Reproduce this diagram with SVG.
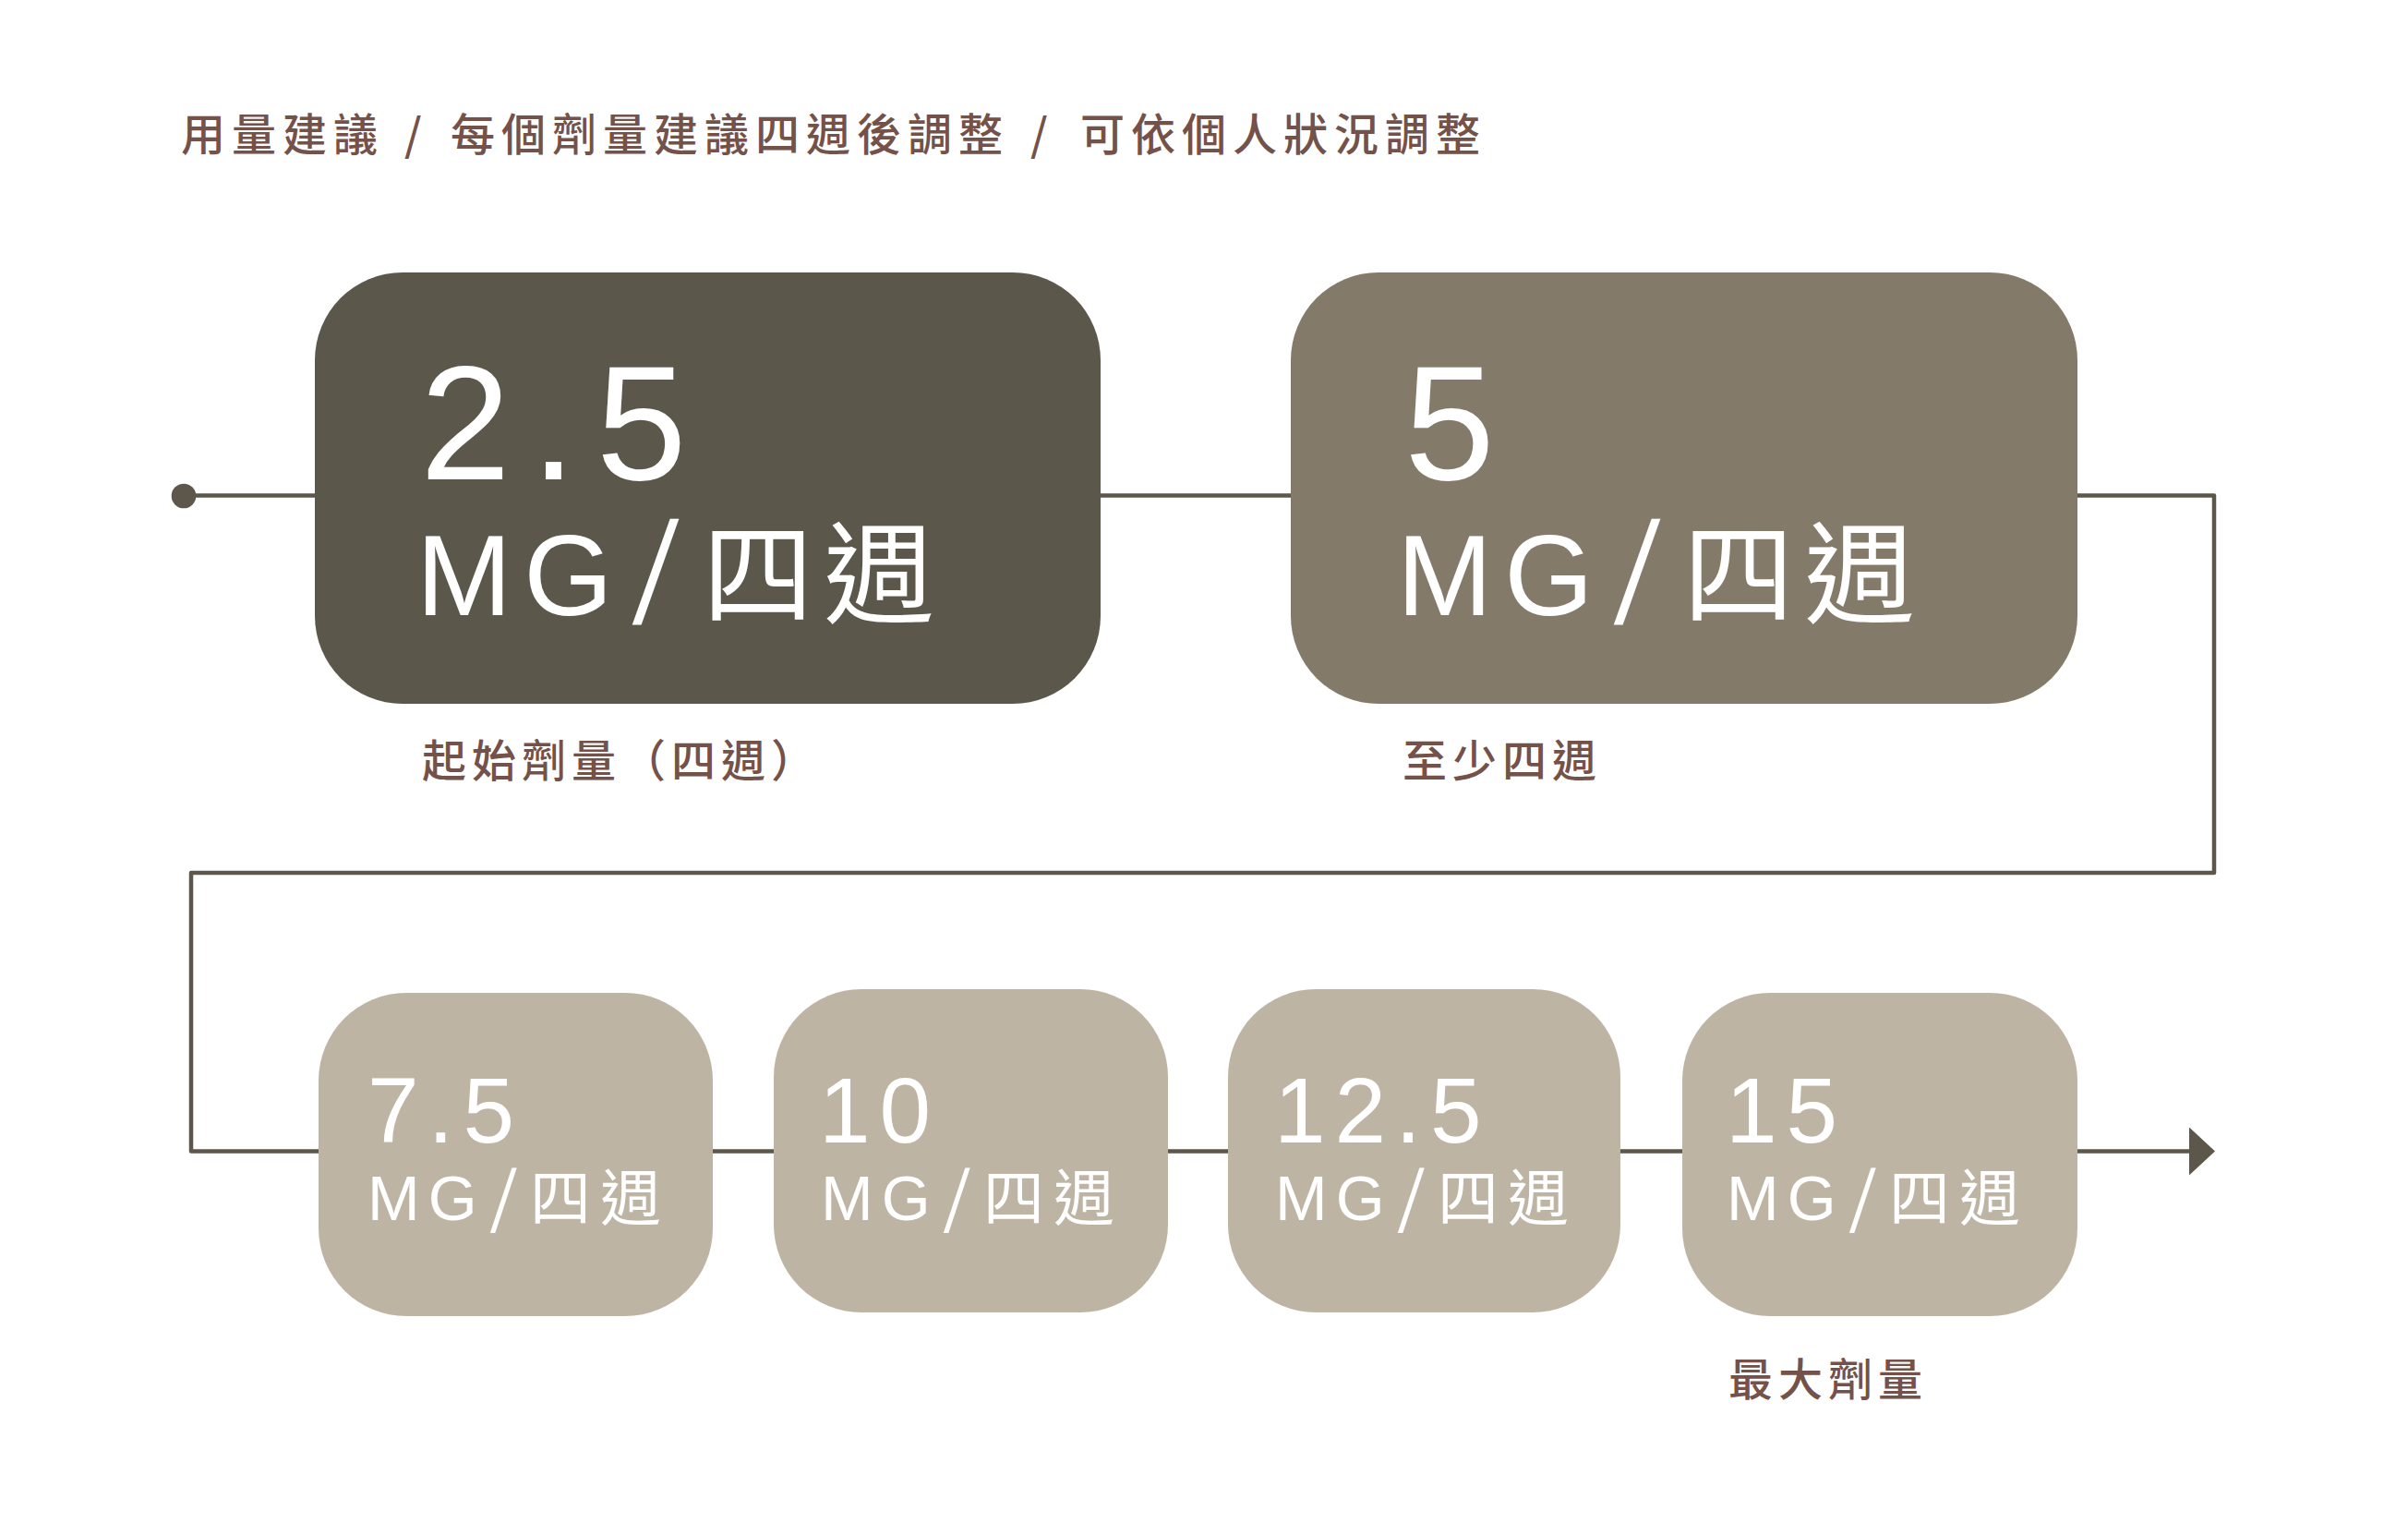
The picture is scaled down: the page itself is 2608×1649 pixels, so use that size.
<svg xmlns="http://www.w3.org/2000/svg" width="2608" height="1649" viewBox="0 0 2608 1649">
<style>
.note{font-family:"Noto Sans CJK TC","Noto Sans CJK SC",sans-serif;font-size:48px;font-weight:500;fill:#74524a;letter-spacing:7px}
.val{font-family:"Liberation Sans","Noto Sans CJK TC",sans-serif;fill:#ffffff}
.cjk{font-family:"Noto Sans CJK TC","Noto Sans CJK SC",sans-serif;fill:#ffffff}
.big{font-size:176px;letter-spacing:22px}
.unit{font-size:124px;letter-spacing:13px}
.ucjk{font-size:120px;letter-spacing:11px}
.sbig{font-size:100px;letter-spacing:10px}
.sunit{font-size:68px;letter-spacing:9px}
.scjk{font-size:66px;letter-spacing:10px}
.conn{fill:none;stroke:#5d574b;stroke-width:4.5;stroke-linejoin:round}
</style>
<defs>
<marker id="arrow" markerUnits="userSpaceOnUse" markerWidth="30" markerHeight="54" refX="0" refY="26" orient="auto">
<path d="M0,0 L28,26 L0,52 Z" fill="#5d574b"/>
</marker>
</defs>
<rect width="2608" height="1649" fill="#ffffff"/>
<text class="note" x="196" y="163"><tspan x="196">用量建議</tspan><tspan x="438">/</tspan><tspan x="488">每個劑量建議四週後調整</tspan><tspan x="1116">/</tspan><tspan x="1170">可依個人狀況調整</tspan></text>
<g id="connectors">
<circle cx="199" cy="537" r="13.3" fill="#5d574b"/>
<path class="conn" d="M199,536.5 H2398 V945 H207 V1246.5 H2371" marker-end="url(#arrow)"/>
</g>
<g id="dose-2-5">
<rect x="341" y="295" width="851" height="467" rx="95" ry="95" fill="#5c574b"/>
<text class="val big" x="455" y="519">2.5</text>
<text class="val unit" x="451" y="666">MG</text>
<text class="val unit" transform="translate(685,675) skewX(-8) scale(1,1.26)">/</text>
<text class="cjk ucjk" x="761" y="666">四週</text>
<text class="note" x="457" y="841" style="letter-spacing:6px">起始劑量（四週）</text>
</g>
<g id="dose-5">
<rect x="1398" y="295" width="852" height="467" rx="95" ry="95" fill="#837a69"/>
<text class="val big" x="1521" y="519">5</text>
<text class="val unit" x="1513" y="666">MG</text>
<text class="val unit" transform="translate(1748,675) skewX(-8) scale(1,1.26)">/</text>
<text class="cjk ucjk" x="1823" y="666">四週</text>
<text class="note" x="1519" y="841" style="letter-spacing:6px">至少四週</text>
</g>
<g id="dose-7-5">
<rect x="345" y="1075" width="427" height="350" rx="95" ry="95" fill="#bdb4a4"/>
<text class="val sbig" x="398" y="1237">7.5</text>
<text class="val sunit" x="398" y="1321">MG</text>
<text class="val sunit" transform="translate(531,1334) skewX(-8) scale(1,1.41)">/</text>
<text class="cjk scjk" x="574" y="1321">四週</text>
</g>
<g id="dose-10">
<rect x="838" y="1071" width="427" height="350" rx="95" ry="95" fill="#bdb4a4"/>
<text class="val sbig" x="887" y="1237">10</text>
<text class="val sunit" x="889" y="1321">MG</text>
<text class="val sunit" transform="translate(1022,1334) skewX(-8) scale(1,1.41)">/</text>
<text class="cjk scjk" x="1065" y="1321">四週</text>
</g>
<g id="dose-12-5">
<rect x="1330" y="1071" width="425" height="350" rx="95" ry="95" fill="#bdb4a4"/>
<text class="val sbig" x="1380" y="1237">12.5</text>
<text class="val sunit" x="1381" y="1321">MG</text>
<text class="val sunit" transform="translate(1514,1334) skewX(-8) scale(1,1.41)">/</text>
<text class="cjk scjk" x="1557" y="1321">四週</text>
</g>
<g id="dose-15">
<rect x="1822" y="1075" width="428" height="350" rx="95" ry="95" fill="#bdb4a4"/>
<text class="val sbig" x="1869" y="1237">15</text>
<text class="val sunit" x="1870" y="1321">MG</text>
<text class="val sunit" transform="translate(2003,1334) skewX(-8) scale(1,1.41)">/</text>
<text class="cjk scjk" x="2046" y="1321">四週</text>
<text class="note" x="1872" y="1511" style="letter-spacing:6px">最大劑量</text>
</g>
</svg>
